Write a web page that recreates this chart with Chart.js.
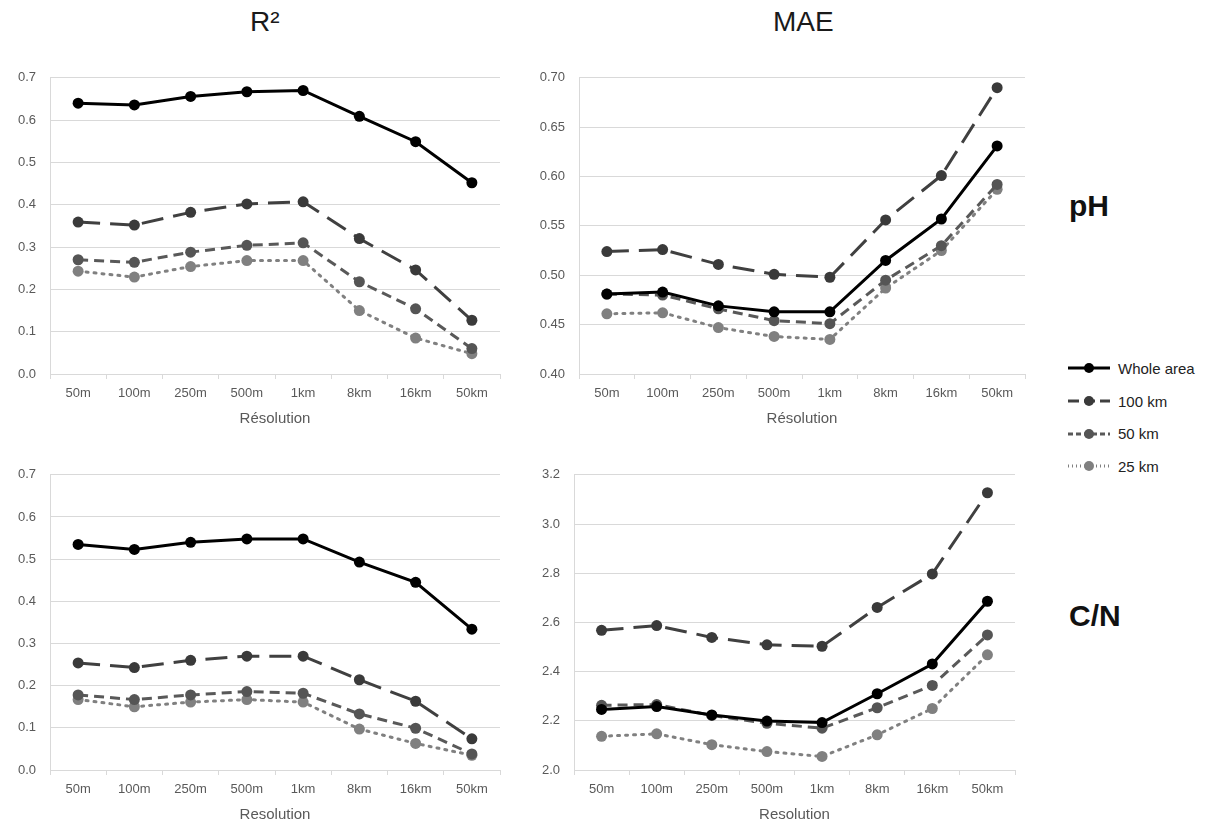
<!DOCTYPE html>
<html>
<head>
<meta charset="utf-8">
<script src="https://cdn.jsdelivr.net/npm/chart.js@4.4.0/dist/chart.umd.min.js"></script>
<style>
  body { margin: 0; background: #fff; font-family: "Liberation Sans", Arial, sans-serif; }
  #page { position: relative; width: 1213px; height: 829px; }
  .panel { position: absolute; }
  .title { position: absolute; font-size: 28px; color: #1a1a1a; }
  .rowlab { position: absolute; font-size: 30px; font-weight: bold; color: #111; }
  #legend { position: absolute; left: 1066px; top: 352px; }
  .leg { display: flex; align-items: center; height: 32.7px; font-size: 15px; color: #222; }
  .leg svg { margin-right: 6px; }
</style>
</head>
<body>
<div id="page">
  <div class="title" style="left:250px; top:6px;">R²</div>
  <div class="title" style="left:773px; top:6px;">MAE</div>
  <div class="rowlab" style="left:1069px; top:189px;">pH</div>
  <div class="rowlab" style="left:1069px; top:599px;">C/N</div>

  <div class="panel" style="left:0px; top:56px;"><canvas id="phR2" width="510" height="376"></canvas></div>
  <div class="panel" style="left:520px; top:56px;"><canvas id="phMae" width="515" height="376"></canvas></div>
  <div class="panel" style="left:0px; top:453px;"><canvas id="cnR2" width="510" height="375"></canvas></div>
  <div class="panel" style="left:520px; top:453px;"><canvas id="cnMae" width="505" height="375"></canvas></div>

  <div id="legend"></div>
</div>

<script>
// categories
const resolutions = ['50m', '100m', '250m', '500m', '1km', '8km', '16km', '50km'];
const seriesNames = ['Whole area', '100 km', '50 km', '25 km'];

// pH - R²
const phR2Whole = [0.640, 0.636, 0.656, 0.667, 0.670, 0.609, 0.549, 0.452];
const phR2_100 = [0.359, 0.352, 0.382, 0.402, 0.407, 0.320, 0.246, 0.127];
const phR2_50 = [0.270, 0.264, 0.288, 0.304, 0.310, 0.218, 0.154, 0.060];
const phR2_25 = [0.243, 0.229, 0.254, 0.268, 0.268, 0.150, 0.085, 0.048];

// pH - MAE
const phMaeWhole = [0.481, 0.483, 0.469, 0.463, 0.463, 0.515, 0.557, 0.631];
const phMae_100 = [0.524, 0.526, 0.511, 0.501, 0.498, 0.556, 0.601, 0.690];
const phMae_50 = [0.481, 0.480, 0.466, 0.454, 0.451, 0.495, 0.530, 0.592];
const phMae_25 = [0.461, 0.462, 0.447, 0.438, 0.435, 0.487, 0.525, 0.587];

// C/N - R²
const cnR2Whole = [0.535, 0.523, 0.540, 0.548, 0.548, 0.493, 0.445, 0.334];
const cnR2_100 = [0.254, 0.243, 0.260, 0.270, 0.270, 0.214, 0.163, 0.074];
const cnR2_50 = [0.178, 0.167, 0.178, 0.186, 0.182, 0.133, 0.099, 0.038];
const cnR2_25 = [0.167, 0.150, 0.161, 0.167, 0.161, 0.097, 0.063, 0.035];

// C/N - MAE
const cnMaeWhole = [2.246, 2.258, 2.224, 2.199, 2.193, 2.310, 2.431, 2.686];
const cnMae_100 = [2.568, 2.587, 2.539, 2.509, 2.503, 2.661, 2.797, 3.127];
const cnMae_50 = [2.263, 2.266, 2.222, 2.190, 2.170, 2.253, 2.344, 2.549];
const cnMae_25 = [2.137, 2.147, 2.103, 2.075, 2.055, 2.143, 2.250, 2.468];

// line looks per series (same order as seriesNames)
const styles = [
    { color: '#000000', point: '#000000', dash: [], width: 3 },
    { color: '#404040', point: '#3a3a3a', dash: [22, 10], width: 3 },
    { color: '#595959', point: '#555555', dash: [10, 6], width: 3 },
    { color: '#808080', point: '#808080', dash: [2, 6], width: 3 }
];

const tickColor = '#595959';
const gridColor = '#d9d9d9';

function makePanel(id, series, yMin, yMax, step, decimals, xTitle, yWidth) {
    const ctx = document.getElementById(id).getContext('2d');
    const datasets = series.map((vals, i) => ({
        label: seriesNames[i],
        data: vals,
        borderColor: styles[i].color,
        backgroundColor: styles[i].point,
        pointBackgroundColor: styles[i].point,
        pointBorderColor: styles[i].point,
        borderWidth: styles[i].width,
        borderDash: styles[i].dash,
        borderCapStyle: i === 3 ? 'round' : 'butt',
        pointRadius: 5.5,
        pointBorderWidth: 0,
        tension: 0,
        order: i
    }));
    return new Chart(ctx, {
        type: 'line',
        data: { labels: resolutions, datasets: datasets },
        options: {
            responsive: false,
            animation: false,
            layout: { padding: { top: 10, right: 10, left: 0, bottom: 0 } },
            plugins: { legend: { display: false }, tooltip: { enabled: false } },
            scales: {
                x: {
                    offset: true,
                    grid: {
                        display: true, drawOnChartArea: false, drawTicks: true,
                        tickLength: 5, offset: true, color: gridColor
                    },
                    border: { display: true, color: gridColor },
                    ticks: { color: tickColor, padding: 7, font: { family: 'Liberation Sans', size: 13 }, maxRotation: 0 },
                    title: { display: true, text: xTitle, color: tickColor, padding: { top: 2, bottom: 4 }, font: { family: 'Liberation Sans', size: 15 } },
                    afterFit: s => { s.height = 58; }
                },
                y: {
                    min: yMin,
                    max: yMax,
                    grid: { color: gridColor, drawTicks: false, lineWidth: 1 },
                    border: { display: true, color: gridColor },
                    ticks: {
                        stepSize: step,
                        padding: 14,
                        color: tickColor,
                        font: { family: 'Liberation Sans', size: 13 },
                        callback: v => Number(v).toFixed(decimals)
                    },
                    afterFit: s => { s.width = yWidth; }
                }
            }
        }
    });
}

makePanel('phR2', [phR2Whole, phR2_100, phR2_50, phR2_25], 0, 0.7, 0.1, 1, 'Résolution', 50);
makePanel('phMae', [phMaeWhole, phMae_100, phMae_50, phMae_25], 0.40, 0.70, 0.05, 2, 'Résolution', 59);
makePanel('cnR2', [cnR2Whole, cnR2_100, cnR2_50, cnR2_25], 0, 0.7, 0.1, 1, 'Resolution', 50);
makePanel('cnMae', [cnMaeWhole, cnMae_100, cnMae_50, cnMae_25], 2.0, 3.2, 0.2, 1, 'Resolution', 54);

// html legend with small svg line samples
const legend = document.getElementById('legend');
seriesNames.forEach((name, i) => {
    const st = styles[i];
    const row = document.createElement('div');
    row.className = 'leg';
    const dash = st.dash.length ? `stroke-dasharray="${st.dash.map(d => d * 0.5).join(' ')}"` : '';
    row.innerHTML =
        `<svg width="46" height="12"><line x1="2" y1="6" x2="44" y2="6" stroke="${st.color}" stroke-width="3" ${dash}/>` +
        `<circle cx="23" cy="6" r="5" fill="${st.point}"/></svg><span>${name}</span>`;
    legend.appendChild(row);
});
</script>
</body>
</html>
